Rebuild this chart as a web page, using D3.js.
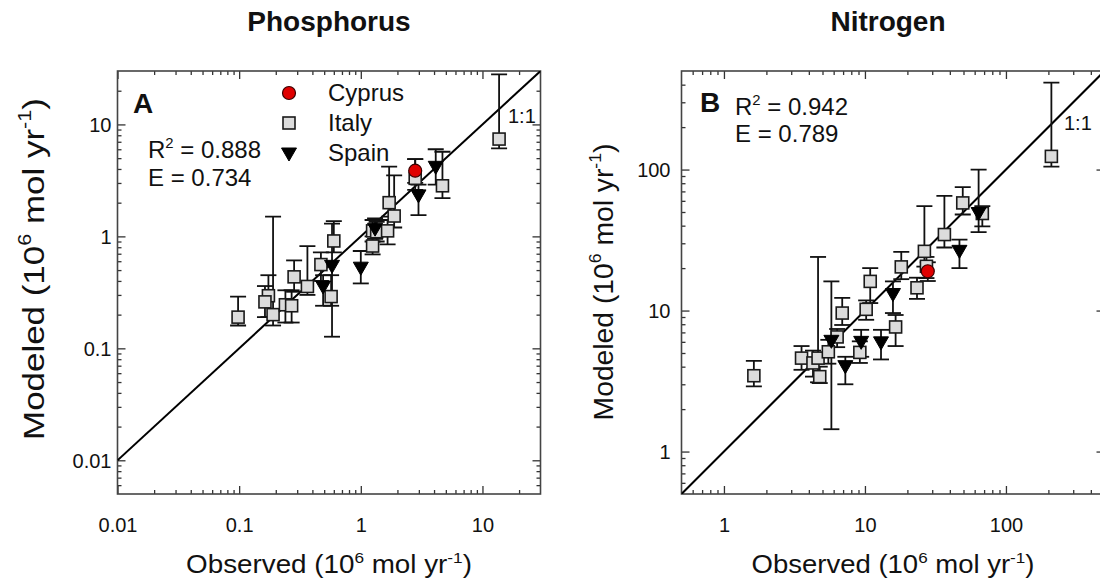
<!DOCTYPE html>
<html><head><meta charset="utf-8">
<script src="https://cdn.jsdelivr.net/npm/d3@7"></script>
<style>
body{margin:0;background:#fff}
svg{display:block}
text{font-family:"Liberation Sans",Arial,sans-serif;fill:#111}
</style>
</head><body>
<svg id="c" width="1100" height="585"></svg>
<script>
// ---------- DATA: [observed, modeled, errLow, errHigh] ----------
const phosItaly = [
  [0.098,0.19,0.16,0.29],[0.174,0.295,0.19,0.45],[0.163,0.26,0.19,0.36],
  [0.19,0.20,0.16,1.5],[0.24,0.245,0.17,0.33],[0.27,0.24,0.17,0.33],
  [0.283,0.435,0.32,0.61],[0.364,0.357,0.30,0.82],[0.47,0.56,0.40,0.72],
  [0.60,0.91,0.72,1.37],[0.57,0.29,0.24,0.45],[1.25,1.12,0.9,1.4],
  [1.35,1.10,0.9,1.35],[1.25,0.82,0.69,1.0],[1.66,1.12,0.85,1.4],
  [1.88,1.52,1.2,3.5],[1.71,2.0,1.5,4.2],[2.8,3.3,2.6,4.9],
  [4.69,2.83,2.2,5.7],[13.7,7.4,6.1,28]
];
const phosSpain = [
  [0.49,0.353,0.24,0.45],[0.58,0.54,0.127,1.3],[1.0,0.52,0.38,0.74],
  [1.31,1.16,0.95,1.45],[2.98,2.3,1.55,2.9],[4.13,4.14,2.9,6.0]
];
const phosCyprus = [[2.8,3.86,3.0,4.9]];

const nitItaly = [
  [1.63,3.45,2.9,4.4],[3.55,4.6,3.8,5.6],[4.28,4.25,3.4,5.2],
  [4.65,4.6,3.1,24],[4.78,3.4,3.06,4.0],[5.5,5.1,4.2,6.2],
  [6.35,6.5,5.5,7.4],[6.9,9.6,7.9,12.3],[9.2,5.05,4.25,6.05],
  [10.2,10.2,8.6,11.8],[10.9,16.1,11.3,20],[16.5,7.65,5.6,9.3],
  [18.1,20.4,16.7,26.1],[23.4,14.5,12.1,17.1],[26.4,26.3,20.5,55],
  [27.3,20.6,17,24],[36.6,34.6,28,65],[49.4,58,48,75],
  [68,48.8,39.6,55],[210,124,105,413]
];
const nitSpain = [
  [5.78,6.05,1.44,16.1],[7.26,4.0,3.0,4.7],[9.4,5.95,4.7,7.3],
  [13.0,5.9,4.5,7.3],[15.8,13.0,9.6,16.1],[46.8,26.3,20,31.8],
  [64,48.8,36,100]
];
const nitCyprus = [[27.9,19,16.2,22]];

const phosTicks = [0.01,0.1,1,10];
const phosTickLabels = ["0.01","0.1","1","10"];
const nitTicks = [1,10,100];
const nitTickLabels = ["1","10","100"];
const legendNames = ["Cyprus","Italy","Spain"];
const phosStats = ["0.888","0.734"];
const nitStats = ["0.942","0.789"];

// ---------- DRAW ----------
const svg = d3.select("#c");

function minorTicks(dom){
  const out=[];
  const k0=Math.floor(Math.log10(dom[0])), k1=Math.ceil(Math.log10(dom[1]));
  for(let k=k0;k<=k1;k++) for(let m=2;m<=9;m++){const v=m*Math.pow(10,k); if(v>dom[0]*1.0001&&v<dom[1]*0.9999) out.push(v);}
  return out;
}

function supText(sel, parts, fs){
  parts.forEach(([t,s],i)=>{
    const ts = sel.append("tspan").text(t);
    if(s){ ts.attr("font-size",fs*0.62).attr("dy",-fs*0.42); }
    else if(i>0 && parts[i-1][1]){ ts.attr("dy",fs*0.42); }
  });
}
// stretch a text (drawn at origin) along its reading direction to a target length
function fitText(t, base, target){
  const w = t.node().getBBox().width;
  t.attr("transform", base + ` scale(${target/w},1)`);
}

function drawSquare(g,x,y){ g.append("rect").attr("x",x-6).attr("y",y-6).attr("width",12).attr("height",12)
  .attr("fill","#dcdcdc").attr("stroke","#1a1a1a").attr("stroke-width",1.6); }
function drawTri(g,x,y){ g.append("path").attr("d",`M${x-7.5},${y-6}L${x+7.5},${y-6}L${x},${y+7}Z`)
  .attr("fill","#000").attr("stroke","#000").attr("stroke-width",1); }
function drawCirc(g,x,y){ g.append("circle").attr("cx",x).attr("cy",y).attr("r",6.5)
  .attr("fill","#e00000").attr("stroke","#3a0000").attr("stroke-width",1.2); }

function panel(cfg){
  const g = svg.append("g");
  const W=423,H=423;
  const x = d3.scaleLog().domain(cfg.xd).range([cfg.L, cfg.L+W]);
  const y = d3.scaleLog().domain(cfg.yd).range([cfg.T+H, cfg.T]);
  const clipId="clip"+cfg.id;
  svg.append("clipPath").attr("id",clipId).append("rect").attr("x",cfg.L).attr("y",cfg.T).attr("width",W).attr("height",H);

  const fmt = (d)=>cfg.labels[cfg.ticks.indexOf(d)];
  const axStyle = (a)=>{ a.select(".domain").remove(); a.selectAll("line").attr("stroke","#333").attr("stroke-width",1.3); };
  const mk = (axisFn, tr, vals, size, f)=>{
    const a = g.append("g").attr("transform",tr)
      .call(axisFn.tickValues(vals).tickFormat(f||"").tickSizeInner(size).tickSizeOuter(0));
    axStyle(a); return a;
  };
  const minX = minorTicks(cfg.xd), minY = minorTicks(cfg.yd);
  const bMaj = mk(d3.axisBottom(x),`translate(0,${cfg.T+H})`,cfg.ticks,-8,fmt);
  bMaj.selectAll("text").attr("y",24).attr("dy","0.71em").attr("font-size",20).attr("fill","#111");
  mk(d3.axisBottom(x),`translate(0,${cfg.T+H})`,minX,-4);
  mk(d3.axisTop(x),`translate(0,${cfg.T})`,cfg.ticks,-8);
  mk(d3.axisTop(x),`translate(0,${cfg.T})`,minX,-4);
  const lMaj = mk(d3.axisLeft(y),`translate(${cfg.L},0)`,cfg.yticks,-8,d=>cfg.ylabels[cfg.yticks.indexOf(d)]);
  lMaj.selectAll("text").attr("x",-cfg.ylabGap).attr("dy","0.35em").attr("font-size",20).attr("fill","#111");
  mk(d3.axisLeft(y),`translate(${cfg.L},0)`,minY,-4);
  mk(d3.axisRight(y),`translate(${cfg.L+W},0)`,cfg.yticks,-8);
  mk(d3.axisRight(y),`translate(${cfg.L+W},0)`,minY,-4);

  g.append("rect").attr("x",cfg.L).attr("y",cfg.T).attr("width",W).attr("height",H)
    .attr("fill","none").attr("stroke","#444").attr("stroke-width",1.6);

  const plot = g.append("g").attr("clip-path",`url(#${clipId})`);
  const lo = Math.max(cfg.xd[0],cfg.yd[0]), hi=Math.min(cfg.xd[1],cfg.yd[1]);
  plot.append("line").attr("x1",x(lo)).attr("y1",y(lo)).attr("x2",x(hi)).attr("y2",y(hi))
    .attr("stroke","#000").attr("stroke-width",2);

  const all = [...cfg.italy, ...cfg.spain, ...cfg.cyprus];
  all.forEach(d=>{
    const cx=x(d[0]);
    plot.append("line").attr("x1",cx).attr("x2",cx).attr("y1",y(d[2])).attr("y2",y(d[3])).attr("stroke","#111").attr("stroke-width",1.8);
    [d[2],d[3]].forEach(v=>plot.append("line").attr("x1",cx-8).attr("x2",cx+8).attr("y1",y(v)).attr("y2",y(v)).attr("stroke","#111").attr("stroke-width",1.8));
  });
  cfg.italy.forEach(d=>drawSquare(plot,x(d[0]),y(d[1])));
  cfg.spain.forEach(d=>drawTri(plot,x(d[0]),y(d[1])));
  cfg.cyprus.forEach(d=>drawCirc(plot,x(d[0]),y(d[1])));

  svg.append("text").attr("x",cfg.titleX).attr("y",31).attr("text-anchor","middle")
    .attr("font-size",28).attr("font-weight","bold").text(cfg.title);
  const xt = svg.append("text").attr("text-anchor","middle").attr("font-size",25);
  supText(xt,[["Observed (10",0],["6",1],[" mol yr",0],["-1",1],[")",0]],25);
  fitText(xt,`translate(${cfg.xTitleX},573)`,cfg.xTitleW);
  const yt = svg.append("text").attr("text-anchor","middle").attr("font-size",cfg.yTitleFs);
  supText(yt,[["Modeled (10",0],["6",1],[" mol yr",0],["-1",1],[")",0]],cfg.yTitleFs);
  fitText(yt,`translate(${cfg.yTitleX},${cfg.yTitleY}) rotate(-90)`,cfg.yTitleW);

  svg.append("text").attr("x",cfg.letterX).attr("y",cfg.letterY).attr("font-size",28).attr("font-weight","bold").text(cfg.letter);
  const r2 = svg.append("text").attr("x",cfg.statX).attr("y",cfg.statY).attr("font-size",24);
  supText(r2,[["R",0],["2",1],[" = "+cfg.stats[0],0]],24);
  svg.append("text").attr("x",cfg.statX).attr("y",cfg.statY+cfg.statGap).attr("font-size",24).text("E = "+cfg.stats[1]);
  svg.append("text").attr("x",cfg.oneX).attr("y",cfg.oneY).attr("font-size",20).text("1:1");
  return {x,y};
}

panel({id:"A", L:117.5, T:71, xd:[0.01,30], yd:[0.005,30], ticks:phosTicks, labels:phosTickLabels,
  yticks:phosTicks, ylabels:phosTickLabels, ylabGap:6,
  italy:phosItaly, spain:phosSpain, cyprus:phosCyprus,
  title:"Phosphorus", titleX:329, xTitleX:329, xTitleW:286, yTitleX:44, yTitleY:269, yTitleFs:30, yTitleW:342,
  letter:"A", letterX:133, letterY:113, stats:phosStats, statX:148, statY:158, statGap:28,
  oneX:508, oneY:123});

panel({id:"B", L:681.5, T:71, xd:[0.5,500], yd:[0.5,500], ticks:nitTicks, labels:nitTickLabels,
  yticks:nitTicks, ylabels:nitTickLabels, ylabGap:11,
  italy:nitItaly, spain:nitSpain, cyprus:nitCyprus,
  title:"Nitrogen", titleX:888, xTitleX:893, xTitleW:283, yTitleX:613, yTitleY:282, yTitleFs:28, yTitleW:277,
  letter:"B", letterX:700, letterY:112, stats:nitStats, statX:735, statY:115, statGap:27,
  oneX:1064, oneY:130});

const lg = svg.append("g");
drawCirc(lg,289,93); drawSquare(lg,289,123); drawTri(lg,289,154);
[101,131,161].forEach((yy,i)=>lg.append("text").attr("x",328).attr("y",yy).attr("font-size",24).text(legendNames[i]));
</script>
</body></html>
